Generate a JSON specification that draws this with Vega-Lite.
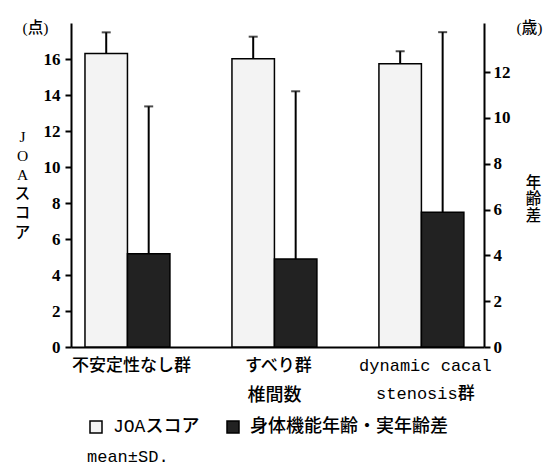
{
  "$schema": "https://vega.github.io/schema/vega-lite/v6.json",
  "width": 413,
  "height": 324,
  "autosize": {"type": "none"},
  "padding": {"left": 71, "top": 23, "right": 64, "bottom": 121},
  "background": "white",
  "config": {
    "view": {"stroke": null},
    "font": "Liberation Serif, Noto Sans CJK JP",
    "axis": {"grid": false, "domainColor": "black", "domainWidth": 2, "tickColor": "black", "tickWidth": 2, "labelColor": "black", "titleColor": "black", "titleFont": "Liberation Serif, Noto Sans CJK JP", "titleFontSize": 15.5, "titleFontWeight": 500, "titleAngle": 0, "titleBaseline": "top"}
  },
  "data": {
    "values": [
      {"group": "不安定性なし群", "series": "JOAスコア", "mean": 16.3, "upper": 17.48},
      {"group": "すべり群", "series": "JOAスコア", "mean": 16.02, "upper": 17.24},
      {"group": "dynamic cacal stenosis群", "series": "JOAスコア", "mean": 15.74, "upper": 16.43},
      {"group": "不安定性なし群", "series": "身体機能年齢・実年齢差", "mean": 4.07, "upper": 10.5},
      {"group": "すべり群", "series": "身体機能年齢・実年齢差", "mean": 3.84, "upper": 11.16},
      {"group": "dynamic cacal stenosis群", "series": "身体機能年齢・実年齢差", "mean": 5.88, "upper": 13.74}
    ]
  },
  "encoding": {
    "x": {
      "field": "group",
      "type": "nominal",
      "sort": ["不安定性なし群", "すべり群", "dynamic cacal stenosis群"],
      "scale": {"paddingInner": 0.422, "paddingOuter": 0.116, "align": 0.41},
      "axis": {
        "title": "椎間数",
        "titleX": 203,
        "titleY": 48,
        "titleBaseline": "middle",
        "titleAlign": "center",
        "titleFont": "Noto Sans CJK JP",
        "titleFontSize": 18,
        "titleFontWeight": 500,
        "labelAngle": 0,
        "labelFont": "Liberation Mono, Noto Sans CJK JP",
        "labelFontSize": 17,
        "labelFontWeight": 500,
        "labelPadding": 10,
        "labelLineHeight": 28,
        "labelBaseline": "top",
        "labelOffset": 4,
        "labelLimit": 0,
        "ticks": false,
        "labelExpr": "datum.value == 'dynamic cacal stenosis群' ? ['dynamic cacal', 'stenosis群'] : datum.label"
      }
    },
    "xOffset": {
      "field": "series",
      "type": "nominal",
      "scale": {"domain": ["JOAスコア", "身体機能年齢・実年齢差"], "paddingInner": 0, "paddingOuter": 0}
    }
  },
  "layer": [
    {
      "transform": [{"filter": "datum.series == 'JOAスコア'"}],
      "layer": [
        {
          "mark": {"type": "bar", "stroke": "black", "strokeWidth": 1.5},
          "encoding": {
            "y": {
              "field": "mean",
              "type": "quantitative",
              "scale": {"domain": [0, 18], "nice": false, "zero": true},
              "axis": {
                "orient": "left",
                "title": ["J", "O", "A", "ス", "コ", "ア"],
                "titleAlign": "center",
                "titleX": -49,
                "titleY": 106,
                "titleLineHeight": 19.2,
                "values": [0, 2, 4, 6, 8, 10, 12, 14, 16],
                "labelFont": "'Liberation Serif', serif",
                "labelFontSize": 17,
                "labelFontWeight": "bold",
                "labelPadding": 5,
                "tickSize": 6
              }
            },
            "color": {
              "field": "series",
              "type": "nominal",
              "scale": {"domain": ["JOAスコア", "身体機能年齢・実年齢差"], "range": ["#f3f3f3", "#222222"]},
              "legend": {
                "orient": "none",
                "legendX": 16,
                "legendY": 395,
                "direction": "horizontal",
                "title": "mean±SD.",
                "titleOrient": "bottom",
                "titleAnchor": "start",
                "titleFont": "Liberation Mono",
                "titleFontSize": 17,
                "titleFontWeight": "normal",
                "titleColor": "black",
                "titlePadding": 13,
                "labelFont": "Liberation Mono, Noto Sans CJK JP",
                "labelFontSize": 18,
                "labelFontWeight": 500,
                "labelColor": "black",
                "labelLimit": 0,
                "labelOffset": 8,
                "symbolType": "square",
                "symbolSize": 144,
                "symbolStrokeColor": "black",
                "symbolStrokeWidth": 1.5,
                "symbolOpacity": 1,
                "columnPadding": 24
              }
            }
          }
        },
        {
          "mark": {"type": "rule", "strokeWidth": 2, "color": "black"},
          "encoding": {
            "y": {"field": "mean", "type": "quantitative", "scale": {"domain": [0, 18], "nice": false, "zero": true}, "axis": null},
            "y2": {"field": "upper"}
          }
        },
        {
          "mark": {"type": "tick", "orient": "horizontal", "size": 9, "thickness": 2, "color": "black"},
          "encoding": {
            "y": {
              "field": "upper",
              "type": "quantitative",
              "scale": {"domain": [0, 18], "nice": false, "zero": true},
              "axis": {
                "orient": "left",
                "title": "(点)",
                "titleAlign": "left",
                "titleX": -49,
                "titleY": -3,
                "labels": false,
                "ticks": false,
                "domain": false
              }
            }
          }
        }
      ],
      "resolve": {"axis": {"y": "independent"}}
    },
    {
      "transform": [{"filter": "datum.series == '身体機能年齢・実年齢差'"}],
      "layer": [
        {
          "mark": {"type": "bar", "stroke": "black", "strokeWidth": 1.5},
          "encoding": {
            "y": {
              "field": "mean",
              "type": "quantitative",
              "scale": {"domain": [0, 14.14], "nice": false, "zero": true},
              "axis": {
                "orient": "right",
                "title": ["年", "齢", "差"],
                "titleAlign": "center",
                "titleX": 49,
                "titleY": 152,
                "titleLineHeight": 16.8,
                "values": [0, 2, 4, 6, 8, 10, 12],
                "labelFont": "'Liberation Serif', serif",
                "labelFontSize": 17,
                "labelFontWeight": "bold",
                "labelPadding": 3,
                "tickSize": 6
              }
            },
            "color": {"field": "series", "type": "nominal"}
          }
        },
        {
          "mark": {"type": "rule", "strokeWidth": 2, "color": "black"},
          "encoding": {
            "y": {"field": "mean", "type": "quantitative", "scale": {"domain": [0, 14.14], "nice": false, "zero": true}, "axis": null},
            "y2": {"field": "upper"}
          }
        },
        {
          "mark": {"type": "tick", "orient": "horizontal", "size": 9, "thickness": 2, "color": "black"},
          "encoding": {
            "y": {
              "field": "upper",
              "type": "quantitative",
              "scale": {"domain": [0, 14.14], "nice": false, "zero": true},
              "axis": {
                "orient": "right",
                "title": "(歳)",
                "titleAlign": "center",
                "titleX": 45,
                "titleY": -3,
                "labels": false,
                "ticks": false,
                "domain": false
              }
            }
          }
        }
      ],
      "resolve": {"axis": {"y": "independent"}}
    }
  ],
  "resolve": {"scale": {"y": "independent"}}
}
